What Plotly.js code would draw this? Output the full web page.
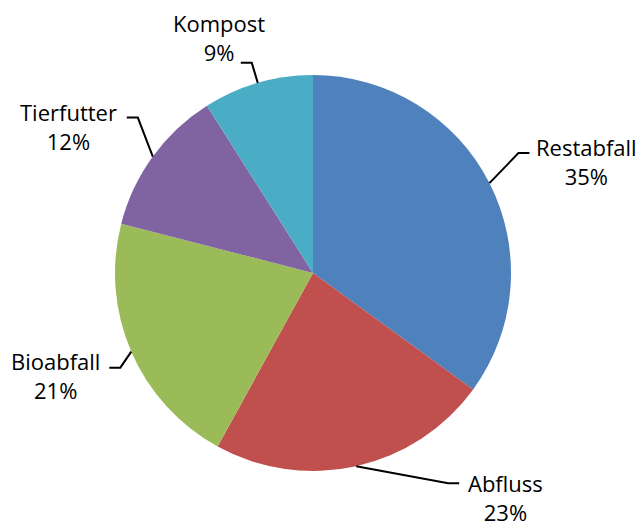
<!DOCTYPE html>
<html>
<head>
<meta charset="utf-8">
<script src="https://cdn.plot.ly/plotly-3.0.1.min.js"></script>
<style>
  html, body { margin: 0; padding: 0; background: #fff; }
  #chart { width: 640px; height: 522px; }
</style>
</head>
<body>
<div id="chart"></div>
<script>
// Daten
var categories = ['Restabfall', 'Abfluss', 'Bioabfall', 'Tierfutter', 'Kompost'];
var shares = [35, 23, 21, 12, 9];
var colors = ['#4F81BD', '#C0504D', '#9BBB59', '#8064A2', '#4BACC6'];

// geometry (pixels)
var W = 640, H = 522;
var cx = 313, cy = 273, R = 198;

// leader line elbow relative to the slice edge point, label centre relative to elbow
var elbowOff = [[29, -30], [92, 17], [-11, 16], [-15, -39], [-6, -20]];
var labelOff = [[68, 8], [57, 14], [-65, 8], [-69, 9], [-33, -25]];
var tail = 11;

function px(x) { return x / W; }
function py(y) { return 1 - y / H; }

var total = shares.reduce(function(a, b) { return a + b; }, 0);
var shapes = [];
var annotations = [];
var cum = 0;
shares.forEach(function(v, i) {
    var mid = (cum + v / 2) / total;
    cum += v;
    var th = 2 * Math.PI * mid;
    var ex = cx + R * Math.sin(th), ey = cy - R * Math.cos(th);
    var bx = ex + elbowOff[i][0], by = ey + elbowOff[i][1];
    var dir = Math.sin(th) >= 0 ? 1 : -1;
    var tx = bx + dir * tail;
    shapes.push({
        type: 'path', xref: 'paper', yref: 'paper',
        path: 'M' + px(ex) + ',' + py(ey) + ' L' + px(bx) + ',' + py(by) + ' L' + px(tx) + ',' + py(by),
        line: {color: '#000', width: 2}
    });
    annotations.push({
        xref: 'paper', yref: 'paper',
        x: px(bx + labelOff[i][0]), y: py(by + labelOff[i][1]),
        xanchor: 'center', yanchor: 'middle', align: 'center',
        showarrow: false,
        text: categories[i] + '<br>' + Math.round(v / total * 100) + '%',
        font: {family: 'Open Sans, sans-serif', size: 22, color: '#000'}
    });
});

var data = [{
    type: 'pie',
    labels: categories,
    values: shares,
    sort: false,
    direction: 'clockwise',
    rotation: 0,
    textinfo: 'none',
    hoverinfo: 'label+percent',
    marker: {colors: colors, line: {width: 0}},
    domain: {x: [px(cx - R), px(cx + R)], y: [py(cy + R), py(cy - R)]}
}];

var layout = {
    width: W,
    height: H,
    margin: {l: 0, r: 0, t: 0, b: 0},
    showlegend: false,
    paper_bgcolor: '#fff',
    shapes: shapes,
    annotations: annotations
};

Plotly.newPlot('chart', data, layout, {displayModeBar: false, staticPlot: true});
</script>
</body>
</html>
